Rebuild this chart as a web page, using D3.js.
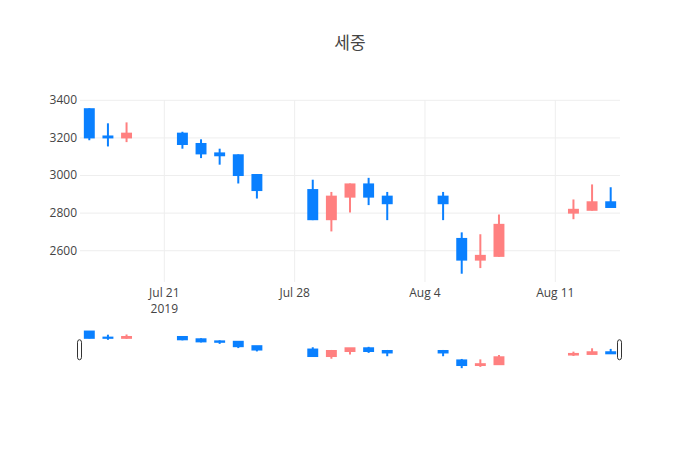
<!DOCTYPE html>
<html>
<head>
<meta charset="utf-8">
<script src="https://d3js.org/d3.v7.min.js"></script>
<style>
  body { margin: 0; background: #fff; }
  svg { display: block; }
</style>
</head>
<body>
<div id="chart"></div>
<script>
// ===== DATA =====
const title = '세중';
const dates = ['2019-07-17', '2019-07-18', '2019-07-19', '2019-07-22', '2019-07-23', '2019-07-24',
  '2019-07-25', '2019-07-26', '2019-07-29', '2019-07-30', '2019-07-31', '2019-08-01', '2019-08-02',
  '2019-08-05', '2019-08-06', '2019-08-07', '2019-08-08', '2019-08-12', '2019-08-13', '2019-08-14'];
const opens  = [3350, 3205, 3200, 3220, 3165, 3115, 3105, 3000, 2920, 2765, 2885, 2950, 2885, 2885, 2660, 2550, 2570, 2800, 2815, 2855];
const highs  = [3355, 3275, 3280, 3230, 3190, 3140, 3110, 3005, 2975, 2910, 2955, 2985, 2910, 2910, 2695, 2685, 2790, 2870, 2950, 2935];
const lows   = [3185, 3152, 3175, 3140, 3090, 3055, 2955, 2875, 2760, 2700, 2800, 2840, 2760, 2760, 2475, 2505, 2565, 2765, 2810, 2830];
const closes = [3200, 3200, 3220, 3165, 3115, 3105, 3000, 2920, 2765, 2885, 2950, 2885, 2850, 2850, 2550, 2570, 2735, 2815, 2855, 2830];

const yTicks = [2600, 2800, 3000, 3200, 3400];
const xTicks = ['2019-07-21', '2019-07-28', '2019-08-04', '2019-08-11'];
const xTickLabels = ['Jul 21', 'Jul 28', 'Aug 4', 'Aug 11'];

// ===== CONFIG =====
const config = {
  width: 700,
  height: 450,
  left: 80,
  right: 620,
  top: 100,
  bottom: 282,
  sliderTop: 329.5,
  sliderBottom: 370,
  upColor: '#ff8080',   // red = rising
  downColor: '#0a80ff', // blue = falling
  gridColor: '#eee',
  textColor: '#444',
  font: '"Open Sans", verdana, arial, "Noto Sans CJK KR", sans-serif',
  bodyFrac: 0.48
};

const parse = d3.utcParse('%Y-%m-%d');
const DAY = 864e5;
const rows = dates.map((d, i) => ({
  date: parse(d), open: opens[i], high: highs[i], low: lows[i], close: closes[i]
}));

const svg = d3.select('#chart').append('svg')
  .attr('width', config.width)
  .attr('height', config.height)
  .style('font-family', config.font);

// ===== SCALES =====
const first = rows[0].date, last = rows[rows.length - 1].date;
const x = d3.scaleUtc()
  .domain([new Date(+first - DAY / 2), new Date(+last + DAY / 2)])
  .range([config.left, config.right]);

// plotly style autorange: 5% padding each side
const yMin = d3.min(lows), yMax = d3.max(highs);
const pad = (yMax - yMin) * 0.05;
const yDomain = [yMin - pad, yMax + pad];

const y = d3.scaleLinear().domain(yDomain).range([config.bottom, config.top]);
const ySlider = d3.scaleLinear().domain(yDomain).range([config.sliderBottom, config.sliderTop]);

const bodyW = (x(new Date(+first + DAY)) - x(first)) * config.bodyFrac;

// ===== GRID + AXES =====
const plotW = config.right - config.left;
const plotH = config.bottom - config.top;

const yAxis = svg.append('g')
  .attr('transform', `translate(${config.left},0)`)
  .call(d3.axisLeft(y).tickValues(yTicks).tickSize(-plotW).tickPadding(3).tickFormat(d3.format('d')));
yAxis.attr('font-family', config.font);
yAxis.select('.domain').remove();
yAxis.selectAll('line').attr('stroke', config.gridColor);
yAxis.selectAll('text').attr('fill', config.textColor).style('font-size', '12px');

const xAxis = svg.append('g')
  .attr('transform', `translate(0,${config.bottom})`)
  .call(d3.axisBottom(x).tickValues(xTicks.map(parse)).tickSize(-plotH).tickPadding(6)
    .tickFormat((d, i) => xTickLabels[i]));
xAxis.attr('font-family', config.font);
xAxis.select('.domain').remove();
xAxis.selectAll('line').attr('stroke', config.gridColor);
xAxis.selectAll('text').attr('fill', config.textColor).style('font-size', '12px');

// year under first tick
xAxis.select('.tick text')
  .append('tspan')
  .attr('x', 0)
  .attr('dy', '1.35em')
  .text('2019');

// ===== CANDLES =====
function drawCandles(g, yScale) {
  const c = g.selectAll('g.candle')
    .data(rows)
    .join('g')
    .attr('class', 'candle');

  c.append('line')
    .attr('x1', d => x(d.date))
    .attr('x2', d => x(d.date))
    .attr('y1', d => yScale(d.high))
    .attr('y2', d => yScale(d.low))
    .attr('stroke', d => d.close >= d.open ? config.upColor : config.downColor)
    .attr('stroke-width', 2);

  c.append('rect')
    .attr('x', d => x(d.date) - bodyW / 2)
    .attr('width', bodyW)
    .attr('y', d => yScale(Math.max(d.open, d.close)))
    .attr('height', d => Math.abs(yScale(d.open) - yScale(d.close)))
    .attr('fill', d => d.close >= d.open ? config.upColor : config.downColor)
    .attr('stroke', d => d.close >= d.open ? config.upColor : config.downColor)
    .attr('stroke-width', 2);
}

drawCandles(svg.append('g'), y);

// ===== RANGE SLIDER =====
const slider = svg.append('g');
slider.append('rect')
  .attr('x', config.left)
  .attr('y', config.sliderTop)
  .attr('width', plotW)
  .attr('height', config.sliderBottom - config.sliderTop)
  .attr('fill', '#fff');

drawCandles(slider.append('g'), ySlider);

const sliderMid = (config.sliderTop + config.sliderBottom) / 2;
[config.left, config.right].forEach(px => {
  slider.append('rect')
    .attr('x', px - 2.5)
    .attr('y', sliderMid - 10)
    .attr('width', 4)
    .attr('height', 20)
    .attr('rx', 2.5)
    .attr('fill', '#fff')
    .attr('stroke', '#333')
    .attr('stroke-width', 1);
});

// ===== TITLE =====
svg.append('text')
  .attr('x', config.width / 2)
  .attr('y', 49)
  .attr('text-anchor', 'middle')
  .attr('fill', config.textColor)
  .style('font-size', '17px')
  .text(title);
</script>
</body>
</html>
